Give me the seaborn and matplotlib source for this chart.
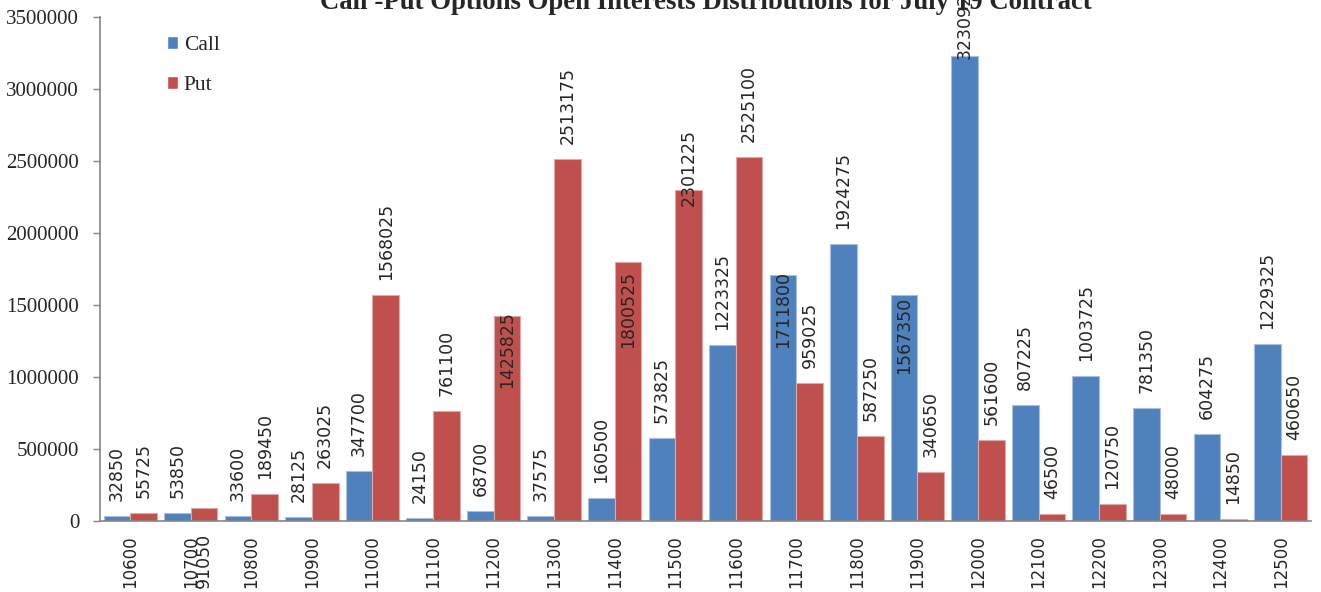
import numpy as np
import pandas as pd
import matplotlib
matplotlib.use('Agg')
import matplotlib.pyplot as plt
import seaborn as sns

# strikes and open interest, July 19 contract
strikes = ['10600', '10700', '10800', '10900', '11000', '11100', '11200', '11300', '11400', '11500',
           '11600', '11700', '11800', '11900', '12000', '12100', '12200', '12300', '12400', '12500']
call_oi = [32850, 53850, 33600, 28125, 347700, 24150, 68700, 37575, 160500, 573825,
           1223325, 1711800, 1924275, 1567350, 3230925, 807225, 1003725, 781350, 604275, 1229325]
put_oi = [55725, 91050, 189450, 263025, 1568025, 761100, 1425825, 2513175, 1800525, 2301225,
          2525100, 959025, 587250, 340650, 561600, 46500, 120750, 48000, 14850, 460650]

df = pd.DataFrame({'Strike': strikes * 2,
                   'OI': call_oi + put_oi,
                   'Type': ['Call'] * len(strikes) + ['Put'] * len(strikes)})

sns.set_style('white')
serif = ['Liberation Serif', 'DejaVu Serif']
sans = ['DejaVu Sans']

fig = plt.figure(figsize=(13.21, 5.92), dpi=100)
ax = fig.add_axes([100/1321, 71/592, 1211/1321, 504/592])

sns.barplot(data=df, x='Strike', y='OI', hue='Type', palette=['#4F81BD', '#C0504D'],
            saturation=1, width=0.88, ax=ax, legend=True)

for cont, edge in zip(ax.containers, ['#A7C0E0', '#E0A8A6']):
    for b in cont:
        b.set_edgecolor(edge)
        b.set_linewidth(0.8)

# labels that sit off the normal "above bar" spot (pixel shift of label bottom)
label_shift = {('Put', '10700'): -80, ('Put', '11200'): -72, ('Put', '11400'): -86,
               ('Put', '11500'): -16, ('Call', '11700'): -73, ('Call', '11900'): -79,
               ('Call', '12000'): -3}

for cont, kind in zip(ax.containers, ['Call', 'Put']):
    for b, s in zip(cont, strikes):
        h = b.get_height()
        off = label_shift.get((kind, s), 15)
        ax.annotate(f'{int(h)}', xy=(b.get_x() + b.get_width()/2, h),
                    xytext=(0, off), textcoords='offset pixels',
                    rotation=90, ha='center', va='bottom', fontsize=12.5,
                    family=sans, annotation_clip=False, clip_on=False)

ax.set_ylim(0, 3500000)
ax.set_xlim(-0.5, 19.5)
ax.set_yticks(np.arange(0, 3500001, 500000))
ax.set_yticklabels([str(v) for v in range(0, 3500001, 500000)], fontsize=15, family=serif)
ax.set_xticks(range(len(strikes)))
ax.set_xticklabels(strikes, rotation=90, fontsize=12, family=sans, va='top')
ax.set_xticks(np.arange(-0.5, 20, 1), minor=True)
ax.tick_params(axis='x', which='major', length=0, pad=10)
ax.tick_params(axis='x', which='minor', length=5, width=1, color='#868686', direction='out')
ax.tick_params(axis='y', length=5, width=1, color='#868686', direction='out', left=True, pad=10)
ax.set_xlabel('')
ax.set_ylabel('')

for sp in ['top', 'right']:
    ax.spines[sp].set_visible(False)
for sp in ['left', 'bottom']:
    ax.spines[sp].set_color('#868686')
    ax.spines[sp].set_linewidth(1.2)

leg = ax.legend(loc='upper left', bbox_to_anchor=(0.039, 1.0), frameon=False,
                handlelength=0.55, handleheight=0.55, handletextpad=0.25, labelspacing=0.95,
                prop={'family': serif, 'size': 15.5})

ax.annotate('Call -Put Options Open Interests Distributions for July 19 Contract',
            xy=(0.5, 1), xycoords='axes fraction', xytext=(0, 8), textcoords='offset pixels',
            ha='center', va='baseline', fontsize=19.3, fontweight='bold', family=serif,
            annotation_clip=False)

fig.savefig('out.png', dpi=100)
